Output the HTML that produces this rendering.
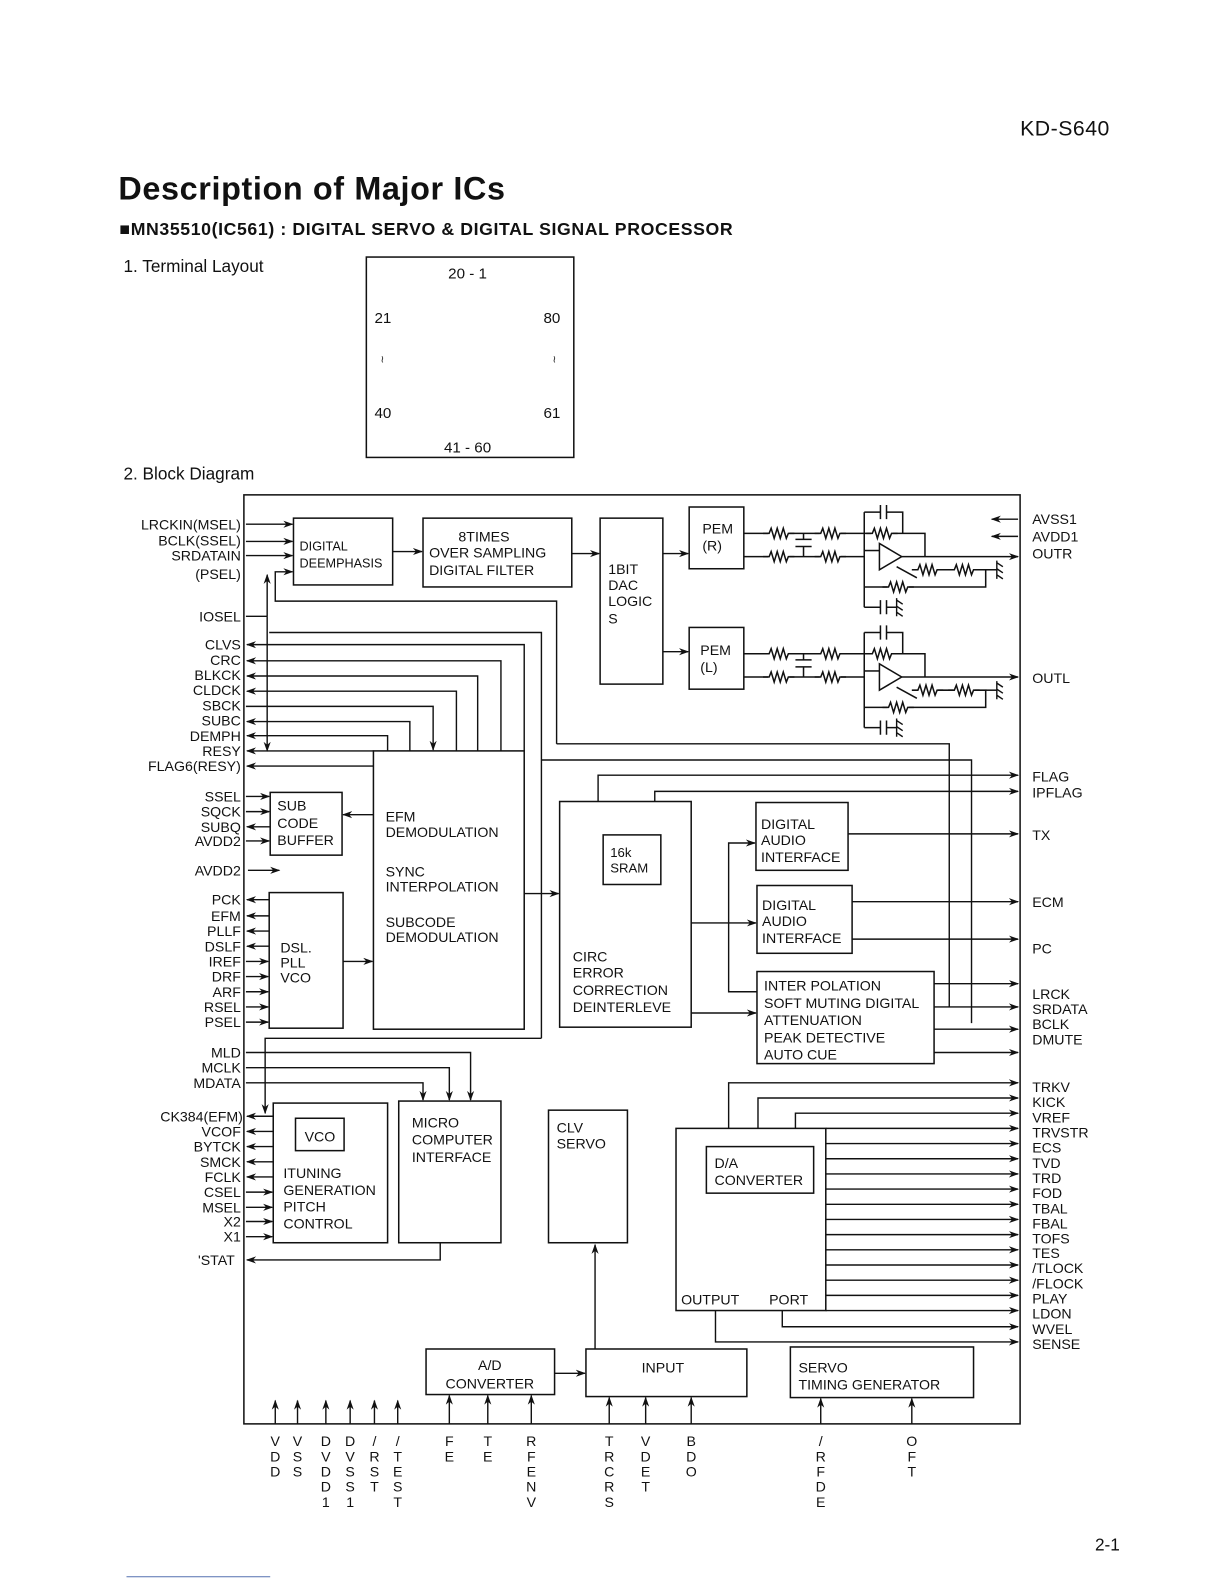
<!DOCTYPE html>
<html><head><meta charset="utf-8"><style>
html,body{margin:0;padding:0;background:#fff;}
svg{display:block;}
text{font-family:"Liberation Sans",sans-serif;fill:#111;}
</style></head><body>
<svg width="1224" height="1584" viewBox="0 0 1224 1584" xmlns="http://www.w3.org/2000/svg">
<defs>
<marker id="a" markerWidth="10" markerHeight="8" refX="9" refY="4" orient="auto" markerUnits="userSpaceOnUse"><path d="M0,0.5 L10,4 L0,7.5 L3,4 Z" fill="#111" stroke="none"/></marker>
<g id="r"><rect x="5" y="-6" width="21" height="12" fill="#fff" stroke="none"/><path d="M0 0 h6 l2 -5 l3 10 l3 -10 l3 10 l3 -10 l3 10 l2 -5 h6" fill="none" stroke="#111" stroke-width="1.5"/></g>
<g id="gnd"><path d="M0 -9 V9 M0 -7 l6 4 M0 -1 l6 4 M0 5 l6 4" fill="none" stroke="#111" stroke-width="1.4"/></g>
<g id="amp" fill="none" stroke="#111" stroke-width="1.5">
 <path d="M735 527 H854 M735 550 H854"/>
 <path d="M794 527 V533 M786 533 H802 M786 540 H802 M794 540 V550"/>
 <use href="#r" x="754" y="527"/><use href="#r" x="805" y="527"/>
 <use href="#r" x="754" y="550"/><use href="#r" x="805" y="550"/>
 <path d="M854 506 V600"/>
 <path d="M854 506 H870 M870 499 V513 M876 499 V513 M876 506 H892 V527"/>
 <path d="M854 527 H914 V550"/>
 <use href="#r" x="856" y="527"/>
 <path d="M854 544 H869"/>
 <path d="M869 537 L869 563 L891 550 Z" fill="#fff"/>
 <path d="M891 550 H1006" marker-end="url(#a)"/>
 <path d="M886 560 L906 571"/>
 <path d="M908 563 H974 V580 H854"/>
 <use href="#r" x="901" y="563"/><use href="#r" x="937" y="563"/>
 <path d="M974 563 H985"/><use href="#gnd" x="985" y="563"/>
 <use href="#r" x="872" y="580"/>
 <path d="M854 600 H870 M870 593 V607 M876 593 V607 M876 600 H886"/><use href="#gnd" x="886" y="600"/>
</g>
</defs>
<g transform="scale(1.012)">
<!-- header -->
<text x="1008" y="134" font-size="21" letter-spacing="0.5">KD-S640</text>
<text x="117" y="197" font-size="32" font-weight="bold" textLength="382">Description of Major ICs</text>
<text x="118" y="232" font-size="17.5" font-weight="bold" textLength="606">■MN35510(IC561) : DIGITAL SERVO &amp; DIGITAL SIGNAL PROCESSOR</text>
<text x="122" y="269" font-size="17">1. Terminal  Layout</text>
<rect x="362" y="254" width="205" height="198" fill="none" stroke="#111" stroke-width="1.5"/>
<text x="462" y="275" font-size="15" text-anchor="middle">20   -   1</text>
<text x="370" y="319" font-size="15">21</text><text x="537" y="319" font-size="15">80</text>
<text x="376" y="358" font-size="10">≀</text><text x="546" y="358" font-size="10">≀</text>
<text x="370" y="413" font-size="15">40</text><text x="537" y="413" font-size="15">61</text>
<text x="462" y="447" font-size="15" text-anchor="middle">41   -   60</text>
<text x="122" y="474" font-size="17">2. Block  Diagram</text>

<g fill="none" stroke="#111" stroke-width="1.5">
<rect x="241" y="489" width="767" height="918"/>
<rect x="290" y="512" width="98" height="66"/>
<rect x="418" y="512" width="147" height="68"/>
<rect x="593" y="512" width="62" height="164"/>
<rect x="681" y="501" width="54" height="61"/>
<rect x="681" y="620" width="54" height="61"/>
<rect x="369" y="742" width="149" height="275"/>
<rect x="267" y="783" width="71" height="62"/>
<rect x="266" y="882" width="73" height="134"/>
<rect x="553" y="792" width="130" height="223"/>
<rect x="596" y="825" width="57" height="49"/>
<rect x="747" y="793" width="91" height="67"/>
<rect x="748" y="875" width="94" height="67"/>
<rect x="748" y="960" width="175" height="91"/>
<rect x="270" y="1090" width="113" height="138"/>
<rect x="292" y="1105" width="48" height="32"/>
<rect x="394" y="1088" width="101" height="140"/>
<rect x="542" y="1097" width="78" height="131"/>
<rect x="668" y="1115" width="148" height="180"/>
<rect x="698" y="1133" width="106" height="46"/>
<rect x="421" y="1333" width="127" height="45"/>
<rect x="579" y="1333" width="159" height="47"/>
<rect x="781" y="1331" width="181" height="50"/>
</g>

<g fill="none" stroke="#111" stroke-width="1.4" marker-end="url(#a)">
<path d="M243 518 H289"/><path d="M243 535 H289"/><path d="M243 549 H289"/>
<path d="M550 735 V594 H272 V565 H289"/>
<path d="M388 545 H417"/><path d="M565 547 H592"/>
<path d="M655 547 H680"/><path d="M655 644 H680"/>
<path d="M243 609 H264" marker-end="none"/>
<path d="M264 609 V568"/><path d="M264 609 V742"/>
<path d="M535 1026 V625 H266" marker-end="none"/>
<path d="M518 742 V637 H244"/>
<path d="M495 742 V653 H244"/>
<path d="M472 742 V668 H244"/>
<path d="M451 742 V683 H244"/>
<path d="M243 698 H428 V741"/>
<path d="M405 742 V713 H244"/>
<path d="M383 742 V727 H244"/>
<path d="M369 742 H244"/>
<path d="M369 757 H244"/>
<path d="M550 735 H938 V995" marker-end="none"/>
<path d="M535 751 H960 V1011" marker-end="none"/>
<path d="M591 792 V766 H1006"/>
<path d="M647 792 V782 H1006"/>
<path d="M243 787 H266"/><path d="M243 802 H266"/><path d="M267 817 H244"/><path d="M243 831 H266"/>
<path d="M369 805 H339"/>
<path d="M245 860 H276"/>
<path d="M266 889 H244"/><path d="M266 905 H244"/><path d="M266 920 H244"/><path d="M266 935 H244"/>
<path d="M243 950 H265"/><path d="M243 965 H265"/><path d="M243 980 H265"/><path d="M243 995 H265"/><path d="M243 1010 H265"/>
<path d="M339 950 H368"/>
<path d="M518 883 H552"/>
<path d="M683 912 H747"/>
<path d="M748 980 H720 V833 H746"/>
<path d="M683 1001 H747"/>
<path d="M838 824 H1006"/>
<path d="M842 891 H1006"/><path d="M842 928 H1006"/>
<path d="M923 972 H1006"/><path d="M923 995 H1006"/><path d="M923 1017 H1006"/><path d="M923 1040 H1006"/>
<path d="M1006 513 H980"/><path d="M1006 530 H980"/>
<path d="M243 1040 H465 V1087"/>
<path d="M243 1055 H444 V1087"/>
<path d="M243 1070 H418 V1087"/>
<path d="M535 1026 H262 V1100"/>
<path d="M270 1103 H244"/><path d="M270 1118 H244"/><path d="M270 1133 H244"/><path d="M270 1148 H244"/><path d="M270 1163 H244"/>
<path d="M243 1178 H269"/><path d="M243 1193 H269"/><path d="M243 1207 H269"/><path d="M243 1222 H269"/>
<path d="M435 1228 V1245 H244"/>
<path d="M720 1115 V1070 H1006"/>
<path d="M749 1115 V1085 H1006"/>
<path d="M786 1115 V1100 H1006"/>
<path d="M816 1115 H1006"/>
<path d="M816 1130 H1006"/><path d="M816 1145 H1006"/><path d="M816 1160 H1006"/><path d="M816 1175 H1006"/>
<path d="M816 1190 H1006"/><path d="M816 1205 H1006"/><path d="M816 1220 H1006"/><path d="M816 1235 H1006"/>
<path d="M816 1250 H1006"/><path d="M816 1265 H1006"/><path d="M816 1280 H1006"/><path d="M816 1295 H1006"/>
<path d="M773 1295 V1311 H1006"/>
<path d="M707 1295 V1326 H1006"/>
<path d="M548 1357 H578"/>
<path d="M588 1333 V1230"/>
<path d="M272 1407 V1384"/><path d="M294 1407 V1384"/><path d="M322 1407 V1384"/><path d="M346 1407 V1384"/><path d="M370 1407 V1384"/><path d="M393 1407 V1384"/>
<path d="M444 1407 V1379"/><path d="M482 1407 V1379"/><path d="M525 1407 V1379"/>
<path d="M602 1407 V1381"/><path d="M638 1407 V1381"/><path d="M683 1407 V1381"/>
<path d="M811 1407 V1382"/><path d="M901 1407 V1382"/>
</g>

<use href="#amp"/>
<use href="#amp" y="119"/>

<g font-size="14">
<g text-anchor="end">
<text x="238" y="523">LRCKIN(MSEL)</text><text x="238" y="539">BCLK(SSEL)</text><text x="238" y="554">SRDATAIN</text><text x="238" y="572">(PSEL)</text>
<text x="238" y="614">IOSEL</text>
<text x="238" y="642">CLVS</text><text x="238" y="657">CRC</text><text x="238" y="672">BLKCK</text><text x="238" y="687">CLDCK</text><text x="238" y="702">SBCK</text><text x="238" y="717">SUBC</text><text x="238" y="732">DEMPH</text><text x="238" y="747">RESY</text><text x="238" y="762">FLAG6(RESY)</text>
<text x="238" y="792">SSEL</text><text x="238" y="807">SQCK</text><text x="238" y="822">SUBQ</text><text x="238" y="836">AVDD2</text>
<text x="238" y="865">AVDD2</text>
<text x="238" y="894">PCK</text><text x="238" y="910">EFM</text><text x="238" y="925">PLLF</text><text x="238" y="940">DSLF</text><text x="238" y="955">IREF</text><text x="238" y="970">DRF</text><text x="238" y="985">ARF</text><text x="238" y="1000">RSEL</text><text x="238" y="1015">PSEL</text>
<text x="238" y="1045">MLD</text><text x="238" y="1060">MCLK</text><text x="238" y="1075">MDATA</text>
<text x="240" y="1108">CK384(EFM)</text><text x="238" y="1123">VCOF</text><text x="238" y="1138">BYTCK</text><text x="238" y="1153">SMCK</text><text x="238" y="1168">FCLK</text><text x="238" y="1183">CSEL</text><text x="238" y="1198">MSEL</text><text x="238" y="1212">X2</text><text x="238" y="1227">X1</text>
<text x="232" y="1250">'STAT</text>
</g>
<text x="1020" y="518">AVSS1</text><text x="1020" y="535">AVDD1</text><text x="1020" y="552">OUTR</text>
<text x="1020" y="675">OUTL</text>
<text x="1020" y="772">FLAG</text><text x="1020" y="788">IPFLAG</text>
<text x="1020" y="830">TX</text><text x="1020" y="896">ECM</text><text x="1020" y="942">PC</text>
<text x="1020" y="987">LRCK</text><text x="1020" y="1002">SRDATA</text><text x="1020" y="1017">BCLK</text><text x="1020" y="1032">DMUTE</text>
<text x="1020" y="1079">TRKV</text><text x="1020" y="1094">KICK</text><text x="1020" y="1109">VREF</text><text x="1020" y="1124">TRVSTR</text><text x="1020" y="1139">ECS</text><text x="1020" y="1154">TVD</text><text x="1020" y="1169">TRD</text><text x="1020" y="1184">FOD</text><text x="1020" y="1199">TBAL</text><text x="1020" y="1214">FBAL</text><text x="1020" y="1229">TOFS</text><text x="1020" y="1243">TES</text><text x="1020" y="1258">/TLOCK</text><text x="1020" y="1273">/FLOCK</text><text x="1020" y="1288">PLAY</text><text x="1020" y="1303">LDON</text><text x="1020" y="1318">WVEL</text><text x="1020" y="1333">SENSE</text>

<text x="296" y="544" font-size="12.5">DIGITAL</text><text x="296" y="561" font-size="12.5">DEEMPHASIS</text>
<text x="453" y="535">8TIMES</text><text x="424" y="551">OVER SAMPLING</text><text x="424" y="568">DIGITAL FILTER</text>
<text x="601" y="567">1BIT</text><text x="601" y="583">DAC</text><text x="601" y="599">LOGIC</text><text x="601" y="616">S</text>
<text x="694" y="527">PEM</text><text x="694" y="544">(R)</text>
<text x="692" y="647">PEM</text><text x="692" y="664">(L)</text>
<text x="381" y="812">EFM</text><text x="381" y="827">DEMODULATION</text>
<text x="381" y="866">SYNC</text><text x="381" y="881">INTERPOLATION</text>
<text x="381" y="916">SUBCODE</text><text x="381" y="931">DEMODULATION</text>
<text x="274" y="801">SUB</text><text x="274" y="818">CODE</text><text x="274" y="835">BUFFER</text>
<text x="277" y="941">DSL.</text><text x="277" y="956">PLL</text><text x="277" y="971">VCO</text>
<text x="603" y="847" font-size="13">16k</text><text x="603" y="862" font-size="13">SRAM</text>
<text x="566" y="950">CIRC</text><text x="566" y="966">ERROR</text><text x="566" y="983">CORRECTION</text><text x="566" y="1000">DEINTERLEVE</text>
<text x="752" y="819">DIGITAL</text><text x="752" y="835">AUDIO</text><text x="752" y="852">INTERFACE</text>
<text x="753" y="899">DIGITAL</text><text x="753" y="915">AUDIO</text><text x="753" y="932">INTERFACE</text>
<text x="755" y="979">INTER POLATION</text><text x="755" y="996">SOFT MUTING DIGITAL</text><text x="755" y="1013">ATTENUATION</text><text x="755" y="1030">PEAK DETECTIVE</text><text x="755" y="1047">AUTO CUE</text>
<text x="301" y="1128">VCO</text>
<text x="280" y="1164">ITUNING</text><text x="280" y="1181">GENERATION</text><text x="280" y="1197">PITCH</text><text x="280" y="1214">CONTROL</text>
<text x="407" y="1114">MICRO</text><text x="407" y="1131">COMPUTER</text><text x="407" y="1148">INTERFACE</text>
<text x="550" y="1119">CLV</text><text x="550" y="1135">SERVO</text>
<text x="706" y="1154">D/A</text><text x="706" y="1171">CONVERTER</text>
<text x="673" y="1289">OUTPUT</text><text x="760" y="1289">PORT</text>
<text x="484" y="1354" text-anchor="middle">A/D</text><text x="484" y="1372" text-anchor="middle">CONVERTER</text>
<text x="655" y="1356" text-anchor="middle">INPUT</text>
<text x="789" y="1356">SERVO</text><text x="789" y="1373">TIMING  GENERATOR</text>

<g text-anchor="middle">
<text x="272" y="1429">V</text><text x="272" y="1444">D</text><text x="272" y="1459">D</text>
<text x="294" y="1429">V</text><text x="294" y="1444">S</text><text x="294" y="1459">S</text>
<text x="322" y="1429">D</text><text x="322" y="1444">V</text><text x="322" y="1459">D</text><text x="322" y="1474">D</text><text x="322" y="1489">1</text>
<text x="346" y="1429">D</text><text x="346" y="1444">V</text><text x="346" y="1459">S</text><text x="346" y="1474">S</text><text x="346" y="1489">1</text>
<text x="370" y="1429">/</text><text x="370" y="1444">R</text><text x="370" y="1459">S</text><text x="370" y="1474">T</text>
<text x="393" y="1429">/</text><text x="393" y="1444">T</text><text x="393" y="1459">E</text><text x="393" y="1474">S</text><text x="393" y="1489">T</text>
<text x="444" y="1429">F</text><text x="444" y="1444">E</text>
<text x="482" y="1429">T</text><text x="482" y="1444">E</text>
<text x="525" y="1429">R</text><text x="525" y="1444">F</text><text x="525" y="1459">E</text><text x="525" y="1474">N</text><text x="525" y="1489">V</text>
<text x="602" y="1429">T</text><text x="602" y="1444">R</text><text x="602" y="1459">C</text><text x="602" y="1474">R</text><text x="602" y="1489">S</text>
<text x="638" y="1429">V</text><text x="638" y="1444">D</text><text x="638" y="1459">E</text><text x="638" y="1474">T</text>
<text x="683" y="1429">B</text><text x="683" y="1444">D</text><text x="683" y="1459">O</text>
<text x="811" y="1429">/</text><text x="811" y="1444">R</text><text x="811" y="1459">F</text><text x="811" y="1474">D</text><text x="811" y="1489">E</text>
<text x="901" y="1429">O</text><text x="901" y="1444">F</text><text x="901" y="1459">T</text>
</g>
</g>
<text x="1082" y="1532" font-size="17">2-1</text>
<line x1="125" y1="1558" x2="267" y2="1558" stroke="#5570b0" stroke-width="1"/>
</g>
</svg>
</body></html>
